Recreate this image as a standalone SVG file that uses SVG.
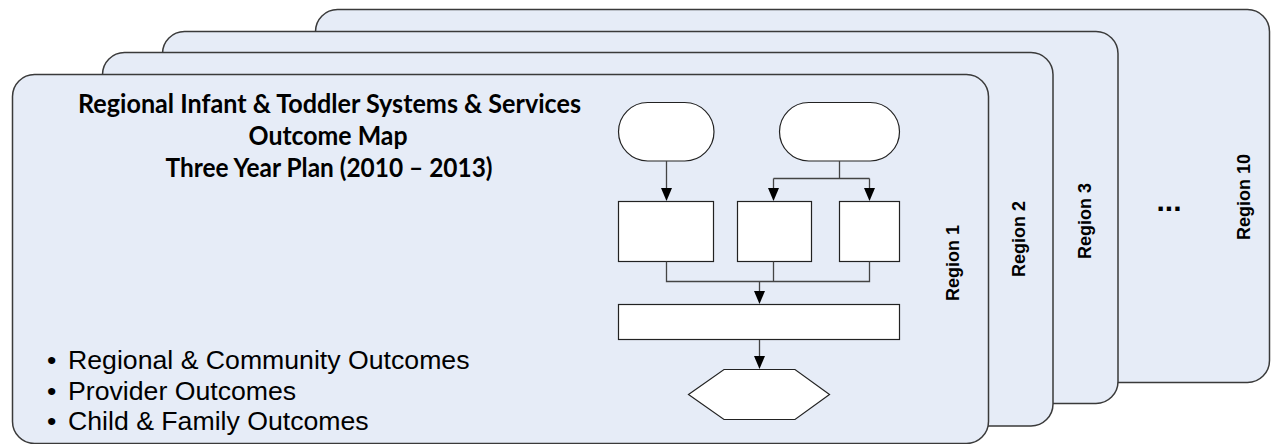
<svg xmlns="http://www.w3.org/2000/svg" width="1271" height="444" viewBox="0 0 1271 444">
<defs>
<style>
.card{fill:#E6ECF7;stroke:#3A3A3A;stroke-width:1.5}
.title{font-family:Lato,"Open Sans","Liberation Sans",sans-serif;font-weight:bold;font-size:26px;fill:#000;text-anchor:middle}
.bul{font-family:"Liberation Sans",Arial,sans-serif;font-size:26.67px;fill:#000}
.reg{font-family:"Liberation Sans",Arial,sans-serif;font-weight:bold;font-size:18px;fill:#000;text-anchor:middle}
.shape{fill:#fff;stroke:#222;stroke-width:1.2}
.conn{fill:none;stroke:#444;stroke-width:1.3}
.head{fill:#000}
</style>
</defs>

<g id="card-region10">
<rect class="card" x="315.5" y="9.5" width="954" height="373" rx="22"/>
<text class="reg" transform="translate(1243,197) rotate(-90)" x="0" y="6.5">Region 10</text>
<text x="1169" y="211" font-family="Liberation Sans,Arial,sans-serif" font-weight="bold" font-size="30" text-anchor="middle">...</text>
</g>
<g id="card-region3">
<rect class="card" x="162.5" y="31.5" width="955.5" height="372" rx="22"/>
<text class="reg" transform="translate(1084,221) rotate(-90)" x="0" y="6.5">Region 3</text>
</g>
<g id="card-region2">
<rect class="card" x="102.5" y="52.5" width="950.5" height="373.5" rx="22"/>
<text class="reg" transform="translate(1018,239) rotate(-90)" x="0" y="6.5">Region 2</text>
</g>
<g id="card-region1">
<rect class="card" x="12.5" y="74.5" width="976" height="369" rx="22"/>
<text class="reg" transform="translate(952,263) rotate(-90)" x="0" y="6.5">Region 1</text>
<text class="title" x="329.5" y="113" textLength="503" lengthAdjust="spacingAndGlyphs">Regional Infant &amp; Toddler Systems &amp; Services</text>
<text class="title" x="328" y="145" textLength="159" lengthAdjust="spacingAndGlyphs">Outcome Map</text>
<text class="title" x="329" y="177" textLength="327" lengthAdjust="spacingAndGlyphs">Three Year Plan (2010 – 2013)</text>
<text class="bul" x="47" y="369">•</text>
<text class="bul" x="68" y="369">Regional &amp; Community Outcomes</text>
<text class="bul" x="47" y="400">•</text>
<text class="bul" x="68" y="400">Provider Outcomes</text>
<text class="bul" x="47" y="430">•</text>
<text class="bul" x="68" y="430">Child &amp; Family Outcomes</text>
</g>

<g id="flow-start-a"><rect class="shape" x="618.5" y="102.5" width="95.5" height="58.5" rx="29.25"/></g>
<g id="flow-start-b"><rect class="shape" x="779.5" y="102.5" width="120" height="58.5" rx="29.25"/></g>
<g id="flow-box-a"><rect class="shape" x="618.5" y="201.5" width="95" height="60"/></g>
<g id="flow-box-b"><rect class="shape" x="737.5" y="201.5" width="74" height="60"/></g>
<g id="flow-box-c"><rect class="shape" x="839.5" y="201.5" width="60" height="60"/></g>
<g id="flow-bar"><rect class="shape" x="618.5" y="304.5" width="281" height="35"/></g>
<g id="flow-hex"><polygon class="shape" points="688.5,394.5 724,369.5 795,369.5 829.5,394.5 795,419.5 724,419.5"/></g>

<g id="connectors">
<path class="conn" d="M666.5,161 V188"/>
<path class="head" d="M661,188 L672,188 L666.5,201 Z"/>
<path class="conn" d="M839.5,161 V178.5 M773.5,178.5 H869.5 M773.5,178.5 V188 M869.5,178.5 V188"/>
<path class="head" d="M768,188 L779,188 L773.5,201 Z"/>
<path class="head" d="M864,188 L875,188 L869.5,201 Z"/>
<path class="conn" d="M666.5,261.5 V281.5 H869.5 V261.5 M773.5,261.5 V281.5 M759.5,281.5 V291"/>
<path class="head" d="M754,291 L765,291 L759.5,304 Z"/>
<path class="conn" d="M759.5,340 V356"/>
<path class="head" d="M754,356 L765,356 L759.5,369 Z"/>
</g>
</svg>
